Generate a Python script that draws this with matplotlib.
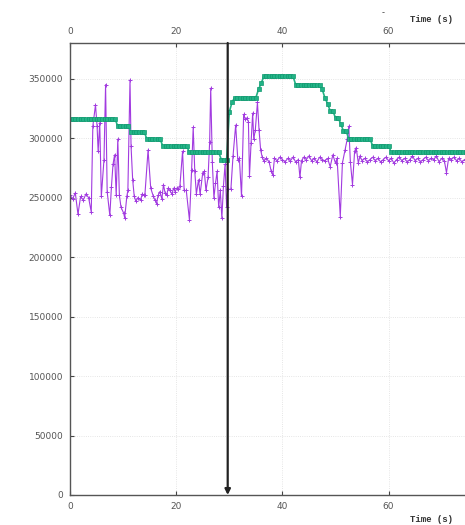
import numpy as np
import matplotlib
matplotlib.use("Agg")
import matplotlib.pyplot as plt

# purple series: sample time (s) and value
purple_t = [0.0, 0.5, 1.0, 1.5, 2.0, 2.5, 3.0, 3.5, 4.0,
            4.3, 4.8, 5.1, 5.3, 5.6, 5.9, 6.4, 6.7, 7.0, 7.5, 7.8, 8.1, 8.4, 8.7,
            9.0, 9.3, 9.6, 10.1, 10.3, 10.7, 10.9, 11.3, 11.5, 11.8, 12.1, 12.4,
            12.8, 13.3, 13.6, 13.9, 14.1, 14.7, 15.2, 15.7, 16.0, 16.3, 16.6, 16.9,
            17.3, 17.6, 17.9, 18.2, 18.5, 18.8, 19.2, 19.5, 19.8, 20.1, 20.4, 20.7,
            21.2, 21.5, 21.9, 22.5, 22.9, 23.2, 23.5, 23.8, 24.2, 24.5, 25.0, 25.3,
            25.6, 26.0, 26.3, 26.5, 26.8, 27.1, 27.4, 27.7, 28.0, 28.3, 28.6, 28.9,
            29.2, 29.5, 29.7, 30.3, 30.7, 31.2, 31.6, 31.9, 32.3, 32.7, 33.0, 33.3,
            33.6, 33.8, 34.1, 34.4, 34.6, 34.9, 35.3, 35.6, 35.9, 36.2,
            36.5, 37.0, 37.5, 37.9, 38.2, 38.5, 39.0, 39.5, 40.0, 40.5, 41.0, 41.5,
            42.0, 42.5, 43.0, 43.3, 43.6, 44.0, 44.5, 45.0, 45.5, 46.0, 46.5, 47.0,
            47.5, 48.0, 48.5, 49.0, 49.5, 50.0, 50.3, 50.9, 51.3, 51.8, 52.2, 52.5,
            52.8, 53.2, 53.6, 53.9, 54.3, 54.6, 55.0,
            55.5, 56.0, 56.5, 57.0, 57.5, 58.0, 58.5, 59.0, 59.5, 60.0, 60.5, 61.0,
            61.5, 62.0, 62.5, 63.0, 63.5, 64.0, 64.5, 65.0, 65.5, 66.0, 66.5, 67.0,
            67.5, 68.0, 68.5, 69.0, 69.5, 70.0, 70.5, 70.9, 71.3, 71.8, 72.3, 72.8,
            73.3, 73.8, 74.3, 74.8]
purple_v = [252, 249, 254, 236, 251, 248, 253, 250, 238,
            310, 328, 310, 289, 313, 251, 282, 345, 255, 235, 259, 278, 286, 252,
            299, 252, 242, 237, 233, 251, 256, 349, 293, 265, 251, 247,
            250, 248, 253, 252, 252, 290, 258, 251, 248, 245, 252, 255,
            249, 261, 254, 252, 258, 256, 253, 258, 255, 258, 257, 260,
            289, 256, 256, 231, 273, 309, 272, 253, 265, 253, 271, 272,
            256, 267, 297, 342, 280, 250, 262, 272, 242, 256, 233, 260,
            278, 242, 257, 257, 285, 311, 282, 283, 251, 320, 316, 317,
            314, 268, 296, 321, 299, 307, 330, 307, 290, 284,
            281, 283, 280, 272, 269, 283, 281, 284, 282, 280, 283, 281,
            284, 280, 282, 267, 281, 284, 282, 285, 281, 283, 280, 284,
            282, 281, 283, 276, 286, 279, 283, 234, 279, 290, 299, 310,
            280, 261, 289, 292, 279, 285, 281,
            283, 280, 282, 284, 281, 283, 280, 282, 284, 281, 283, 279,
            282, 284, 281, 283, 280, 282, 285, 281, 283, 280, 282, 284,
            281, 283, 282, 285, 280, 283, 281, 271, 283, 282, 284, 281,
            283, 280, 282, 283]

# green series: step levels and how many 0.5 s samples each lasts
green_levels = [316, 310, 305, 299, 293, 288, 282, 322, 330, 334, 341, 346,
                352, 345, 341, 334, 329, 323, 317, 312, 306, 299.5, 293.5, 288]
green_counts = [18, 5, 6, 6, 10, 12, 3, 1, 1, 9, 1, 1,
                12, 10, 1, 1, 1, 2, 2, 1, 2, 9, 7, 29]
green_dt = 0.5

arrow_t = 29.7
x_ticks = [0, 20, 40, 60]
y_ticks = [0, 50000, 100000, 150000, 200000, 250000, 300000, 350000]

green_v = np.repeat(green_levels, green_counts) * 1000
green_t = np.arange(len(green_v)) * green_dt

fig = plt.figure(figsize=(4.65, 5.25), dpi=100)
# axes run past the right edge, like the cropped original
ax = fig.add_axes([70 / 465, 30 / 525, 80 * 5.31 / 465, 452 / 525])

ax.plot(purple_t, np.array(purple_v) * 1000, color="#a23be0", lw=0.8,
        marker="+", ms=3, mew=0.7)
ax.plot(green_t, green_v, color="#22b386", lw=1.2,
        marker="s", ms=2.7, mew=0.5, mec="#119970")

ax.annotate("", xy=(arrow_t, 0), xytext=(arrow_t, 380000),
            arrowprops=dict(arrowstyle="-|>", color="#222222", lw=1.6,
                            mutation_scale=8, shrinkA=0, shrinkB=0))

ax.set_xlim(0, 80)
ax.set_ylim(0, 380000)
ax.set_xticks(x_ticks)
ax.set_yticks(y_ticks)
ax.grid(True, color="#dddddd", lw=0.6, ls=":")
ax.tick_params(direction="in", top=True, labeltop=True, length=3,
               labelsize=6.5, labelcolor="#555555", color="#444444", pad=5)
for s in ax.spines.values():
    s.set_color("#555555")
    s.set_linewidth(1.0)

mono = "Liberation Mono"
fig.text(410 / 465, 1 - 19 / 525, "Time (s)", family=mono, fontsize=6.5,
         weight="bold", color="#333333", va="center")
fig.text(410 / 465, 1 - 520 / 525, "Time (s)", family=mono, fontsize=6.5,
         weight="bold", color="#333333", va="center")
fig.text(383 / 465, 1 - 13 / 525, "-", fontsize=6, color="#444444",
         va="center", ha="center")

fig.savefig("out.png", dpi=100)
